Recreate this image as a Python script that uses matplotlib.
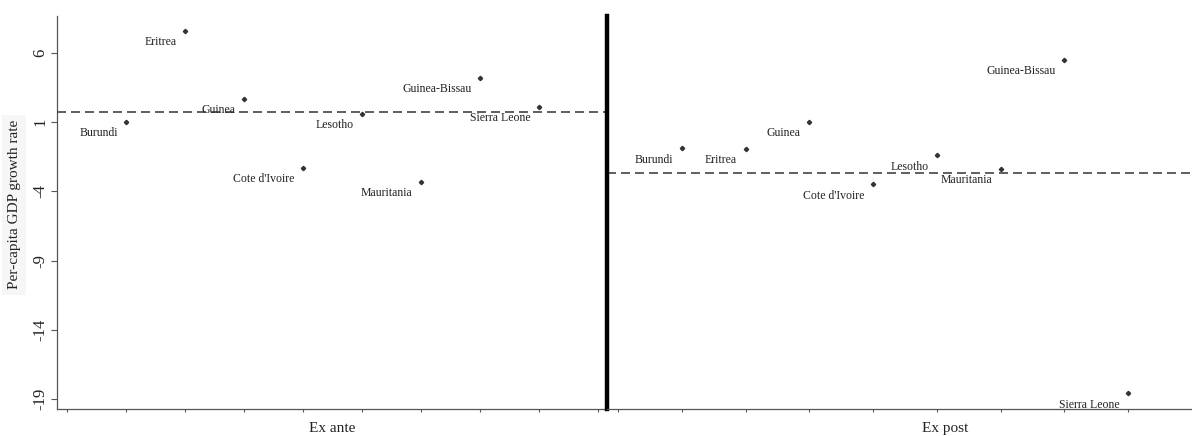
import matplotlib
matplotlib.use("Agg")
import matplotlib.pyplot as plt
import numpy as np

plt.rcParams['font.family'] = ['Liberation Serif', 'DejaVu Serif']

# Ex ante panel (per-capita GDP growth, %)
ante_countries = ["Burundi", "Eritrea", "Guinea", "Cote d'Ivoire",
                  "Lesotho", "Mauritania", "Guinea-Bissau", "Sierra Leone"]
ante_values = [1.0, 7.6, 2.7, -2.3, 1.6, -3.3, 4.2, 2.1]

# Ex post panel
post_countries = ["Burundi", "Eritrea", "Guinea", "Cote d'Ivoire",
                  "Lesotho", "Mauritania", "Guinea-Bissau", "Sierra Leone"]
post_values = [-0.9, -0.95, 1.0, -3.5, -1.4, -2.4, 5.5, -18.6]

yticks = [6, 1, -4, -9, -14, -19]
ylim = (-19.72, 8.67)

fig = plt.figure(figsize=(11.92, 4.36), dpi=100)
ax1 = fig.add_axes([57 / 1192, 1 - 409 / 436, 550 / 1192, 393 / 436])
ax2 = fig.add_axes([607 / 1192, 1 - 409 / 436, 585 / 1192, 393 / 436])

grey = '#555555'
txt = '#222222'


def panel(ax, names, vals, xmax, nticks):
    xs = np.arange(1, len(vals) + 1)
    ax.plot(xs, vals, linestyle='none', marker='D', markersize=2.2,
            color='#333333')
    for x, y, n in zip(xs, vals, names):
        ax.annotate(n, (x, y), xytext=(-6, -8), textcoords='offset points',
                    ha='right', va='center', fontsize=8.5, color=txt)
    ax.axhline(np.mean(vals), color='#444444', lw=1.2, dashes=(5.4, 3))
    ax.set_xlim(-0.172, xmax)
    ax.set_ylim(*ylim)
    ax.set_xticks(range(nticks))
    ax.set_xticklabels([])
    ax.tick_params(axis='x', length=2.5, width=0.8, color=grey)
    ax.spines['top'].set_visible(False)
    ax.spines['right'].set_visible(False)
    ax.spines['bottom'].set_color(grey)
    ax.spines['bottom'].set_linewidth(0.9)
    ax.patch.set_alpha(0)


panel(ax1, ante_countries, ante_values, 9.15, 10)
panel(ax2, post_countries, post_values, 9.0, 9)

# left panel y axis
ax1.set_yticks(yticks)
ax1.set_yticklabels([str(t) for t in yticks], rotation=90, va='center',
                    fontsize=12, color=txt)
ax1.tick_params(axis='y', length=4, width=0.8, color=grey, pad=2)
ax1.spines['left'].set_color(grey)
ax1.spines['left'].set_linewidth(0.9)
ax1.set_ylabel("Per-capita GDP growth rate", fontsize=11, color=txt,
               bbox=dict(facecolor='#f6f6f6', edgecolor='none', pad=4))
ax1.yaxis.set_label_coords(-0.066, 0.52)
ax1.set_xlabel("Ex ante", fontsize=11, color=txt)
ax1.xaxis.set_label_coords(0.5, -0.033)

# right panel: thick divider as its left spine, no y ticks
ax2.set_yticks([])
ax2.spines['left'].set_color('black')
ax2.spines['left'].set_linewidth(3.2)
ax2.set_xlabel("Ex post", fontsize=11, color=txt)
ax2.xaxis.set_label_coords(0.578, -0.033)

fig.savefig("out.png", dpi=100)
